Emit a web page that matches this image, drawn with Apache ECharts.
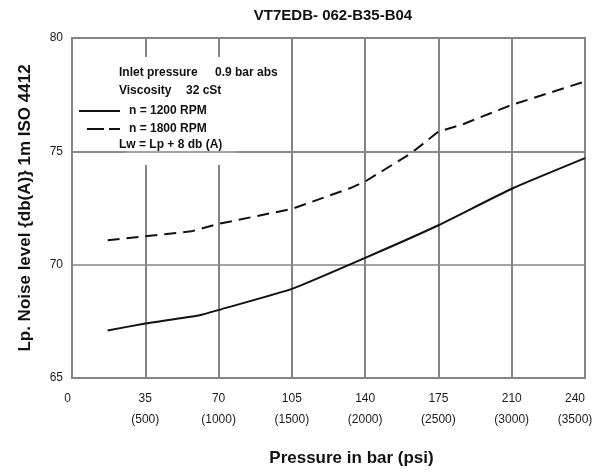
<!DOCTYPE html>
<html><head><meta charset="utf-8">
<script src="https://cdn.jsdelivr.net/npm/echarts@6/dist/echarts.min.js"></script>
<style>html,body{margin:0;padding:0;background:#fff}#chart{width:598px;height:473px}</style>
</head><body><div id="chart"></div>
<script>
const chartTitle = 'VT7EDB- 062-B35-B04';
const xAxisTitle = 'Pressure in bar (psi)';
const yAxisTitle = 'Lp. Noise level {db(A)} 1m ISO 4412';
const xTickBar = ['0', '35', '70', '105', '140', '175', '210', '240'];
const xTickPsi = ['', '(500)', '(1000)', '(1500)', '(2000)', '(2500)', '(3000)', '(3500)'];
const seriesNames = ['n = 1200 RPM', 'n = 1800 RPM'];
const pressure1200 = [17, 35, 61, 70, 105, 140, 175, 210, 245];
const noise1200 = [67.1, 67.4, 67.77, 68.0, 68.93, 70.3, 71.74, 73.35, 74.7];
const pressure1800 = [17, 35, 57, 70, 105, 133, 140, 162, 175, 186, 210, 245];
const noise1800 = [71.08, 71.25, 71.47, 71.8, 72.46, 73.38, 73.67, 74.92, 75.87, 76.17, 77.05, 78.08];
const noteLines = [
  ['Inlet pressure', '0.9 bar abs'],
  ['Viscosity', '32 cSt']
];
const noteFooter = 'Lw = Lp + 8 db (A)';

const FONT = '"Liberation Sans", Arial, Helvetica, sans-serif';
const GRID_COLOR = '#858585';
const chart = echarts.init(document.getElementById('chart'), null, {renderer: 'canvas'});

const pair = (xs, ys) => xs.map((x, i) => [x, ys[i]]);

const graphics = [
  // white patch interrupting the vertical grid lines behind the notes
  {type: 'rect', z: 1, silent: true, shape: {x: 126, y: 57, width: 110, height: 108}, style: {fill: '#ffffff'}},
  {type: 'text', z: 10, x: 119, y: 73, style: {text: noteLines[0][0], font: 'bold 12px ' + FONT, fill: '#111', verticalAlign: 'middle'}},
  {type: 'text', z: 10, x: 215, y: 73, style: {text: noteLines[0][1], font: 'bold 12px ' + FONT, fill: '#111', verticalAlign: 'middle'}},
  {type: 'text', z: 10, x: 119, y: 91, style: {text: noteLines[1][0], font: 'bold 12px ' + FONT, fill: '#111', verticalAlign: 'middle'}},
  {type: 'text', z: 10, x: 186, y: 91, style: {text: noteLines[1][1], font: 'bold 12px ' + FONT, fill: '#111', verticalAlign: 'middle'}},
  {type: 'text', z: 10, x: 119, y: 145, style: {text: noteFooter, font: 'bold 12px ' + FONT, fill: '#111', verticalAlign: 'middle'}}
];

const option = {
  animation: false,
  backgroundColor: '#ffffff',
  title: {
    text: chartTitle, left: 328, top: 3, textAlign: 'center',
    textStyle: {fontFamily: FONT, fontSize: 15, fontWeight: 'bold', color: '#111'}
  },
  legend: {
    orient: 'vertical', left: 78, top: 105, padding: 0, itemWidth: 41, itemHeight: 12, itemGap: 6,
    textStyle: {fontFamily: FONT, fontSize: 12, fontWeight: 'bold', color: '#111', padding: [0, 0, 0, 4]},
    itemStyle: {opacity: 0},
    data: [
      {name: seriesNames[0]},
      {name: seriesNames[1], lineStyle: {type: [17, 5, 11, 8], dashOffset: 33}}
    ],
    selectedMode: false
  },
  grid: {left: 72, right: 13, top: 38, bottom: 95, outerBoundsMode: 'none', containLabel: false,
         show: true, borderColor: GRID_COLOR, borderWidth: 2, backgroundColor: 'transparent'},
  xAxis: {
    type: 'value', min: 0, max: 245, interval: 35,
    name: xAxisTitle, nameLocation: 'middle', nameGap: 72,
    nameTextStyle: {fontFamily: FONT, fontSize: 17, fontWeight: 'bold', color: '#111', padding: [0, 0, 0, 46]},
    axisLine: {show: false}, axisTick: {show: false},
    splitLine: {show: true, lineStyle: {color: GRID_COLOR, width: 2}},
    axisLabel: {
      margin: 10, showMinLabel: true, showMaxLabel: true,
      fontFamily: FONT, fontSize: 12, color: '#1a1a1a', lineHeight: 21,
      formatter: function (v) {
        const i = Math.round(v / 35);
        if (i === 0) return '{f|' + xTickBar[0] + '}';
        if (i === xTickBar.length - 1) return '{l|' + xTickBar[i] + '}\n{l|' + xTickPsi[i] + '}';
        return xTickBar[i] + '\n' + xTickPsi[i];
      },
      rich: {
        f: {fontFamily: FONT, fontSize: 12, color: '#1a1a1a', lineHeight: 21, padding: [0, 9, 0, 0]},
        l: {fontFamily: FONT, fontSize: 12, color: '#1a1a1a', lineHeight: 21, padding: [0, 20, 0, 0]}
      }
    }
  },
  yAxis: {
    type: 'value', min: 65, max: 80, interval: 5,
    name: yAxisTitle, nameLocation: 'middle', nameGap: 38,
    nameTextStyle: {fontFamily: FONT, fontSize: 17, fontWeight: 'bold', color: '#111'},
    axisLine: {show: false}, axisTick: {show: false},
    splitLine: {show: true, lineStyle: {color: GRID_COLOR, width: 1.5}},
    axisLabel: {margin: 9, fontFamily: FONT, fontSize: 12, color: '#1a1a1a'}
  },
  series: [
    {
      name: seriesNames[0], type: 'line', z: 3, symbol: 'none', smooth: 0.15,
      lineStyle: {color: '#111', width: 2, type: 'solid'},
      itemStyle: {color: '#111'},
      data: pair(pressure1200, noise1200),
      markLine: {
        silent: true, symbol: 'none', label: {show: false}, animation: false,
        lineStyle: {color: GRID_COLOR, width: 1.5, type: 'solid'},
        data: [{yAxis: 75}]
      }
    },
    {
      name: seriesNames[1], type: 'line', z: 3, symbol: 'none', smooth: false,
      lineStyle: {color: '#111', width: 2, type: [12, 7]},
      itemStyle: {color: '#111'},
      data: pair(pressure1800, noise1800)
    }
  ],
  graphic: graphics
};
chart.setOption(option);
</script></body></html>
